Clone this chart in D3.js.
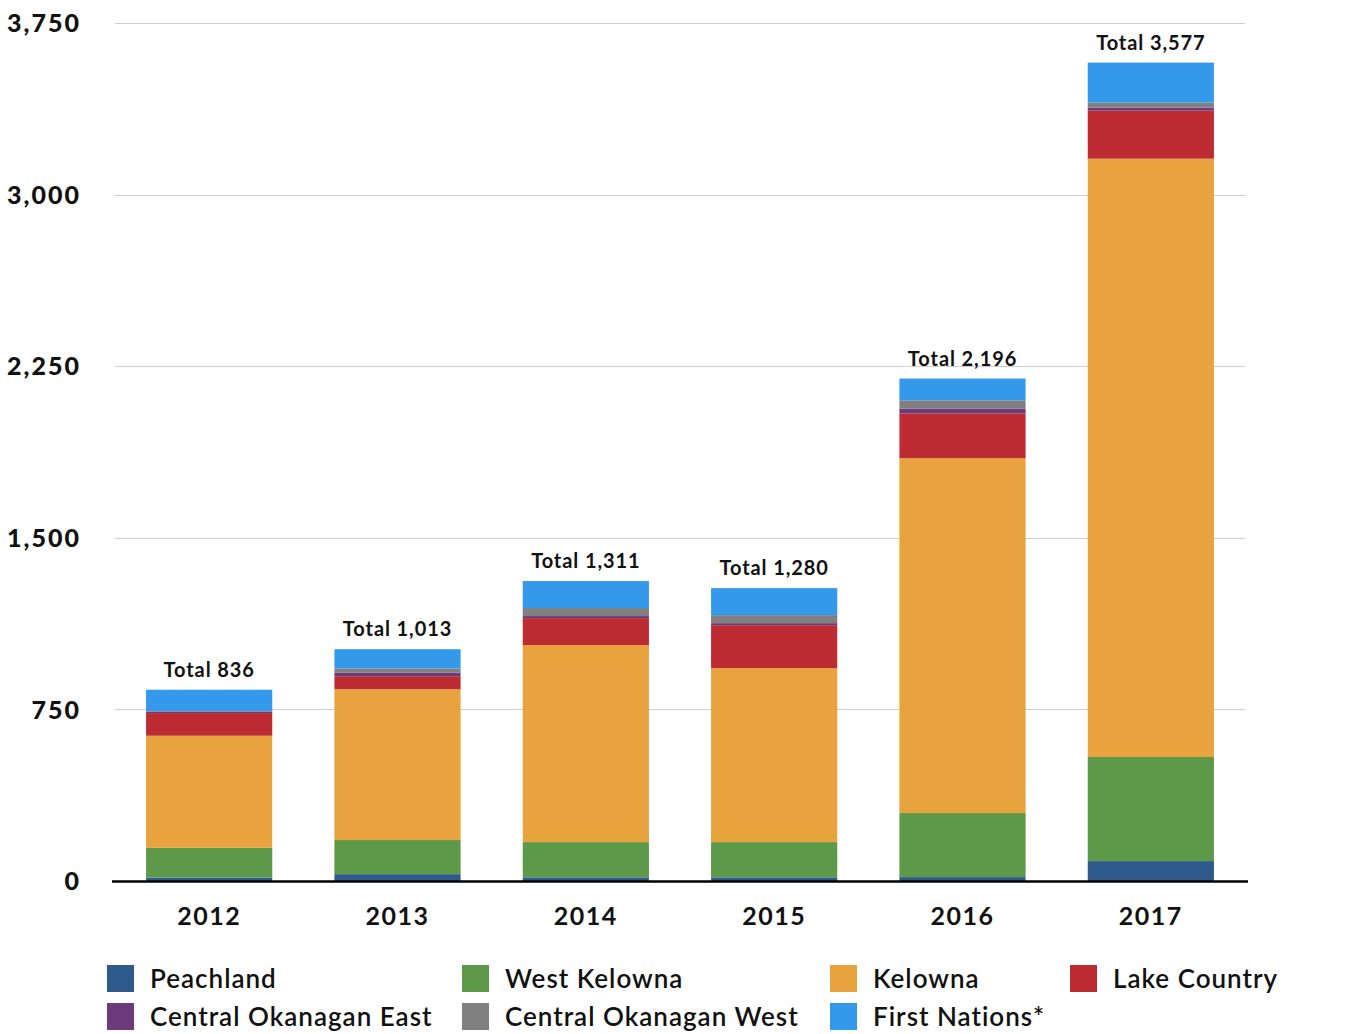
<!DOCTYPE html>
<html>
<head>
<meta charset="utf-8">
<script src="https://cdn.jsdelivr.net/npm/d3@7"></script>
<style>
  html, body { margin: 0; padding: 0; background: #fff; }
  svg { display: block; }
  text { font-family: Lato, "Noto Sans", sans-serif; fill: #111; }
</style>
</head>
<body>
<svg id="chart" width="1366" height="1034"></svg>
<script>
const years = ["2012", "2013", "2014", "2015", "2016", "2017"];
const seriesNames = ["Peachland", "West Kelowna", "Kelowna", "Lake Country",
  "Central Okanagan East", "Central Okanagan West", "First Nations*"];
const seriesColors = ["#2e5a8c", "#5e9849", "#e8a23e", "#bc2c32", "#6d3a7c", "#808080", "#3499ea"];

const peachland = [15, 30, 16, 16, 17, 87];
const westKelowna = [130, 149, 154, 154, 280, 455];
const kelowna = [490, 659, 861, 760, 1551, 2615];
const lakeCountry = [99, 57, 118, 188, 195, 210];
const coEast = [7, 15, 9, 9, 22, 13];
const coWest = [2, 19, 35, 35, 36, 22];
const firstNations = [93, 84, 118, 118, 95, 175];
const totals = [836, 1013, 1311, 1280, 2196, 3577];
const yTicks = [0, 750, 1500, 2250, 3000, 3750];

const seriesValues = [peachland, westKelowna, kelowna, lakeCountry, coEast, coWest, firstNations];
const table = years.map((yr, i) => {
  const row = { year: yr, total: totals[i] };
  seriesNames.forEach((s, j) => row[s] = seriesValues[j][i]);
  return row;
});

const svg = d3.select("#chart");
const x = d3.scaleBand().domain(years).range([115, 1245]).paddingInner(0.33).paddingOuter(0.165);
const y = d3.scaleLinear().domain([0, 3750]).range([881, 23]);

// gridlines
svg.append("g").selectAll("line").data(yTicks.filter(d => d > 0)).join("line")
  .attr("x1", 115).attr("x2", 1245)
  .attr("y1", d => Math.round(y(d)) + 0.5).attr("y2", d => Math.round(y(d)) + 0.5)
  .attr("stroke", "#cfcfcf").attr("stroke-width", 1);

// y axis labels
const yAxis = d3.axisLeft(y).tickValues(yTicks).tickSize(0).tickPadding(0).tickFormat(d3.format(","));
const ya = svg.append("g").attr("transform", "translate(81,0)").call(yAxis);
ya.select(".domain").remove();
ya.selectAll("text").style("font-family", "Lato, sans-serif").style("font-size", "25px")
  .style("font-weight", "900").style("letter-spacing", "2px")
  .attr("fill", "#111").attr("dy", "0.35em");

// stacks
const stack = d3.stack().keys(seriesNames);
const layers = stack(table);
svg.append("g").selectAll("g").data(layers).join("g")
  .attr("fill", (d, i) => seriesColors[i])
  .selectAll("rect").data(d => d).join("rect")
  .attr("x", d => x(d.data.year))
  .attr("width", x.bandwidth())
  .attr("y", d => y(d[1]))
  .attr("height", d => y(d[0]) - y(d[1]));

// baseline
svg.append("line").attr("x1", 112).attr("x2", 1248).attr("y1", y(0) + 0.5).attr("y2", y(0) + 0.5)
  .attr("stroke", "#000").attr("stroke-width", 2.5);

// x axis labels
const xAxis = d3.axisBottom(x).tickSize(0).tickPadding(0);
const xa = svg.append("g").attr("transform", `translate(0,${y(0)})`).call(xAxis);
xa.select(".domain").remove();
xa.selectAll("text").style("font-family", "Lato, sans-serif").style("font-size", "25px")
  .style("font-weight", "700").style("letter-spacing", "1.5px")
  .attr("fill", "#111").attr("dy", "0").attr("y", 44);

// totals
svg.append("g").selectAll("text").data(table).join("text")
  .attr("x", d => x(d.year) + x.bandwidth() / 2)
  .attr("y", d => y(d.total) - 13)
  .attr("text-anchor", "middle")
  .style("font-size", "20px").style("font-weight", "700").style("letter-spacing", "0.9px")
  .text(d => "Total " + d3.format(",")(d.total));

// legend
const legendPos = [
  [107, 965], [462, 965], [830, 965], [1070, 965],
  [107, 1003], [462, 1003], [830, 1003]
];
const lg = svg.append("g").selectAll("g").data(seriesNames).join("g")
  .attr("transform", (d, i) => `translate(${legendPos[i][0]},${legendPos[i][1]})`);
lg.append("rect").attr("width", 27).attr("height", 27).attr("fill", (d, i) => seriesColors[i]);
lg.append("text").attr("x", 43).attr("y", 14).attr("dy", "0.36em")
  .style("font-size", "26px").style("font-weight", "600").style("letter-spacing", "1px")
  .text(d => d);
</script>
</body>
</html>
